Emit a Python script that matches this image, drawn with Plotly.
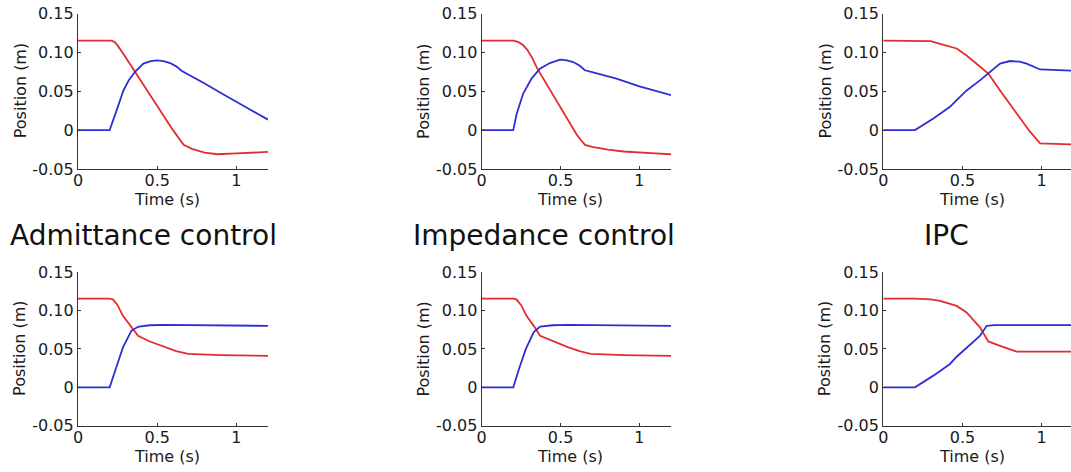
import plotly.graph_objects as go

# ---------------- data ----------------
titles = ["Admittance control", "Impedance control", "IPC"]
x_ticks = [0, 0.5, 1]
x_ticklabels = ["0", "0.5", "1"]
y_ticks = [-0.05, 0, 0.05, 0.10, 0.15]
y_ticklabels = ["-0.05", "0", "0.05", "0.10", "0.15"]

# top row
adm_top_red_t = [0, 0.21, 0.23, 0.25, 0.287, 0.36, 0.445, 0.52, 0.60, 0.667, 0.72, 0.80, 0.88, 1.0, 1.2]
adm_top_red_y = [0.115, 0.115, 0.1135, 0.109, 0.098, 0.075, 0.049, 0.026, 0.0, -0.019, -0.024, -0.029, -0.031, -0.030, -0.028]
adm_top_blue_t = [0, 0.20, 0.245, 0.287, 0.32, 0.36, 0.413, 0.46, 0.50, 0.54, 0.582, 0.62, 0.656, 0.709, 0.8, 0.9, 1.0, 1.1, 1.2]
adm_top_blue_y = [0, 0, 0.026, 0.051, 0.064, 0.075, 0.0855, 0.0888, 0.0897, 0.0888, 0.0863, 0.082, 0.076, 0.0705, 0.060, 0.048, 0.037, 0.025, 0.0135]

imp_top_red_t = [0, 0.20, 0.23, 0.26, 0.29, 0.32, 0.35, 0.40, 0.45, 0.50, 0.55, 0.60, 0.63, 0.655, 0.70, 0.80, 0.90, 1.0, 1.1, 1.2]
imp_top_red_y = [0.115, 0.115, 0.1135, 0.110, 0.103, 0.093, 0.080, 0.063, 0.046, 0.029, 0.012, -0.005, -0.013, -0.019, -0.0215, -0.025, -0.0275, -0.029, -0.030, -0.031]
imp_top_blue_t = [0, 0.20, 0.222, 0.263, 0.316, 0.369, 0.432, 0.496, 0.54, 0.58, 0.62, 0.654, 0.70, 0.854, 1.0, 1.2]
imp_top_blue_y = [0, 0, 0.021, 0.047, 0.0663, 0.079, 0.0863, 0.0906, 0.0898, 0.0876, 0.083, 0.077, 0.0745, 0.0662, 0.0564, 0.045]

ipc_top_red_t = [0, 0.20, 0.30, 0.358, 0.463, 0.526, 0.61, 0.663, 0.737, 0.842, 0.926, 0.99, 1.2]
ipc_top_red_y = [0.115, 0.115, 0.1145, 0.111, 0.105, 0.096, 0.081, 0.0727, 0.051, 0.0214, -0.002, -0.017, -0.0184]
ipc_top_blue_t = [0, 0.20, 0.316, 0.421, 0.463, 0.526, 0.61, 0.663, 0.737, 0.80, 0.86, 0.905, 0.99, 1.2]
ipc_top_blue_y = [0, 0, 0.015, 0.030, 0.0385, 0.051, 0.064, 0.0727, 0.0855, 0.0889, 0.088, 0.0855, 0.078, 0.0765]

# bottom row
adm_bot_red_t = [0, 0.20, 0.22, 0.25, 0.284, 0.33, 0.379, 0.45, 0.55, 0.62, 0.695, 0.9, 1.2]
adm_bot_red_y = [0.1155, 0.1155, 0.1145, 0.107, 0.093, 0.080, 0.067, 0.060, 0.052, 0.047, 0.0434, 0.042, 0.041]
adm_bot_blue_t = [0, 0.20, 0.242, 0.284, 0.337, 0.379, 0.45, 0.55, 1.2]
adm_bot_blue_y = [0, 0, 0.026, 0.052, 0.0736, 0.0788, 0.0808, 0.0812, 0.080]

imp_bot_red_t = [0, 0.20, 0.22, 0.25, 0.284, 0.33, 0.37, 0.45, 0.55, 0.62, 0.69, 0.9, 1.2]
imp_bot_red_y = [0.1155, 0.1155, 0.1145, 0.107, 0.093, 0.080, 0.067, 0.060, 0.052, 0.047, 0.0434, 0.042, 0.041]
imp_bot_blue_t = [0, 0.20, 0.24, 0.28, 0.33, 0.37, 0.45, 0.55, 1.2]
imp_bot_blue_y = [0, 0, 0.026, 0.050, 0.072, 0.079, 0.0808, 0.0812, 0.080]

ipc_bot_red_t = [0, 0.20, 0.30, 0.358, 0.463, 0.526, 0.61, 0.663, 0.737, 0.842, 1.2]
ipc_bot_red_y = [0.1155, 0.1155, 0.1145, 0.1126, 0.106, 0.0974, 0.078, 0.0597, 0.054, 0.0464, 0.0464]
ipc_bot_blue_t = [0, 0.20, 0.316, 0.421, 0.463, 0.526, 0.61, 0.653, 0.70, 1.2]
ipc_bot_blue_y = [0, 0, 0.0152, 0.0304, 0.0398, 0.052, 0.067, 0.080, 0.081, 0.081]

panels = [
    (adm_top_red_t, adm_top_red_y, adm_top_blue_t, adm_top_blue_y),
    (imp_top_red_t, imp_top_red_y, imp_top_blue_t, imp_top_blue_y),
    (ipc_top_red_t, ipc_top_red_y, ipc_top_blue_t, ipc_top_blue_y),
    (adm_bot_red_t, adm_bot_red_y, adm_bot_blue_t, adm_bot_blue_y),
    (imp_bot_red_t, imp_bot_red_y, imp_bot_blue_t, imp_bot_blue_y),
    (ipc_bot_red_t, ipc_bot_red_y, ipc_bot_blue_t, ipc_bot_blue_y),
]

# ---------------- layout ----------------
W, H = 1071, 472
FONT = "DejaVu Sans"
TXT = "#1a1a1a"
AX = "#333333"
RED = "#e42b2f"
BLUE = "#2e2ed2"

col_px = [(78.0, 268.0), (481.7, 671.0), (883.3, 1071.0)]
col_xmax = [1.2, 1.2, (1071.0 - 883.3) / 158.4]
row_px = [(13.5, 169.0), (272.1, 425.7)]

fig = go.Figure()
layout = dict(
    width=W, height=H,
    margin=dict(l=0, r=0, t=0, b=0, pad=0, autoexpand=False),
    paper_bgcolor="white", plot_bgcolor="white",
    showlegend=False,
    font=dict(family=FONT, color=TXT),
)
annotations = []

for i, (rt, ry, bt, by) in enumerate(panels):
    r, c = divmod(i, 3)
    n = i + 1
    xa = "x" if n == 1 else f"x{n}"
    ya = "y" if n == 1 else f"y{n}"
    fig.add_trace(go.Scatter(x=rt, y=ry, mode="lines", line=dict(color=RED, width=1.8),
                             xaxis=xa, yaxis=ya, hoverinfo="skip"))
    fig.add_trace(go.Scatter(x=bt, y=by, mode="lines", line=dict(color=BLUE, width=1.8),
                             xaxis=xa, yaxis=ya, hoverinfo="skip"))
    x0, x1 = col_px[c]
    ytop, ybot = row_px[r]
    xkey = "xaxis" if n == 1 else f"xaxis{n}"
    ykey = "yaxis" if n == 1 else f"yaxis{n}"
    layout[xkey] = dict(
        domain=[x0 / W, min(x1 / W, 1.0)], anchor=ya, range=[0, col_xmax[c]],
        showgrid=False, zeroline=False, showline=True, linecolor=AX, linewidth=1.3,
        ticks="inside", ticklen=3, tickcolor=AX, tickwidth=1, automargin=False,
        tickvals=x_ticks, ticktext=x_ticklabels, ticklabelstandoff=-3,
        tickfont=dict(family=FONT, size=16, color=TXT), fixedrange=True,
    )
    layout[ykey] = dict(
        domain=[1 - ybot / H, 1 - ytop / H], anchor=xa, range=[-0.05, 0.15],
        showgrid=False, zeroline=False, showline=True, linecolor=AX, linewidth=1.3,
        ticks="inside", ticklen=3, tickcolor=AX, tickwidth=1, automargin=False,
        tickvals=y_ticks, ticktext=y_ticklabels,
        tickfont=dict(family=FONT, size=16, color=TXT), fixedrange=True,
    )
    # x axis title
    annotations.append(dict(
        text="Time (s)", xref=xa, x=0.56, yref="paper", y=1 - (ybot + 30.5) / H,
        xanchor="center", yanchor="middle", showarrow=False,
        font=dict(family=FONT, size=16, color=TXT),
    ))
    # y axis title
    annotations.append(dict(
        text="Position (m)", xref="paper", x=(x0 - 58) / W, yref="paper",
        y=1 - (ytop + ybot) / 2 / H, textangle=-90,
        xanchor="center", yanchor="middle", showarrow=False,
        font=dict(family=FONT, size=16, color=TXT),
    ))

title_x = [143, 544, 946]
for c, t in enumerate(titles):
    annotations.append(dict(
        text=t, xref="paper", x=title_x[c] / W, yref="paper", y=1 - 235 / H,
        xanchor="center", yanchor="middle", showarrow=False,
        font=dict(family=FONT, size=28, color="#111111"),
    ))

layout["annotations"] = annotations
fig.update_layout(**layout)
fig.write_html(
    "out.html",
    config={"displayModeBar": False},
    post_script="document.body.style.margin='0px';document.body.style.padding='0px';",
)
